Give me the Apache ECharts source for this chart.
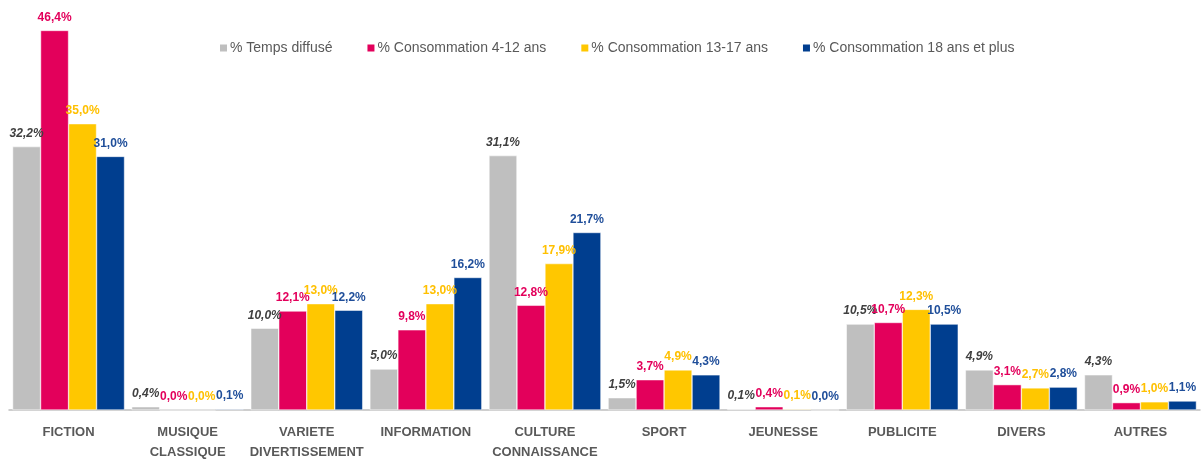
<!DOCTYPE html>
<html><head><meta charset="utf-8">
<script src="https://cdn.jsdelivr.net/npm/echarts@6/dist/echarts.min.js"></script>
<style>html,body{margin:0;padding:0;background:#fff;overflow:hidden}#c{width:1201px;height:462px}</style>
</head><body><div id="c"></div>
<script>
const categories = ['FICTION','MUSIQUE\nCLASSIQUE','VARIETE\nDIVERTISSEMENT','INFORMATION','CULTURE\nCONNAISSANCE','SPORT','JEUNESSE','PUBLICITE','DIVERS','AUTRES'];
const seriesNames = ['% Temps diffusé','% Consommation 4-12 ans','% Consommation 13-17 ans','% Consommation 18 ans et plus'];
const tempsDiffuse = [32.2,0.4,10.0,5.0,31.1,1.5,0.1,10.5,4.9,4.3];
const conso4_12 = [46.4,0.0,12.1,9.8,12.8,3.7,0.4,10.7,3.1,0.9];
const conso13_17 = [35.0,0.0,13.0,13.0,17.9,4.9,0.1,12.3,2.7,1.0];
const conso18plus = [31.0,0.1,12.2,16.2,21.7,4.3,0.0,10.5,2.8,1.1];
const colors = ['#BFBFBF','#E3005B','#FFC700','#003E8F'];
const labelColors = ['#404040','#E3005B','#FFC000','#1F4E9A'];
const dataSets = [tempsDiffuse,conso4_12,conso13_17,conso18plus];
const FONT = 'Liberation Sans, sans-serif';
const chart = echarts.init(document.getElementById('c'));
chart.setOption({
  animation:false,
  color:colors,
  legend:{top:36,left:213,itemWidth:9,itemHeight:9,itemGap:33,icon:'rect',
    textStyle:{color:'#595959',fontSize:14,fontFamily:FONT,padding:[0,0,0,-3]},data:seriesNames},
  grid:{left:9,right:1,top:1,bottom:40,containLabel:false},
  xAxis:{type:'category',data:categories,
    axisLine:{lineStyle:{color:'#BFBFBF',width:1.5}},axisTick:{show:false},
    axisLabel:{color:'#595959',fontWeight:'bold',fontSize:13,fontFamily:FONT,margin:12,lineHeight:20,interval:0}},
  yAxis:{type:'value',min:0,max:50,show:false,splitLine:{show:false}},
  series: dataSets.map((d,i)=>({
    name:seriesNames[i],type:'bar',data:d,barGap:'0%',barCategoryGap:'6%',
    itemStyle:{color:colors[i],borderColor:'#fff',borderWidth:0.5},
    label:{show:true,position:'top',distance:7,color:labelColors[i],fontWeight:'bold',
      fontStyle:i===0?'italic':'normal',fontSize:12,fontFamily:FONT,
      formatter:p=>p.value.toFixed(1).replace('.',',')+'%'}
  }))
});
</script></body></html>
